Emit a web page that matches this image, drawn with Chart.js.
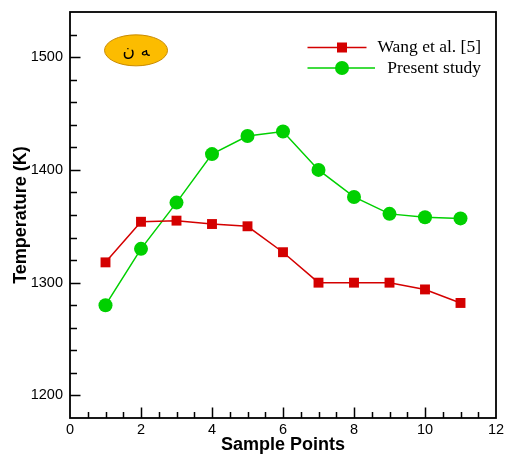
<!DOCTYPE html>
<html>
<head>
<meta charset="utf-8">
<script src="https://cdn.jsdelivr.net/npm/chart.js@4.4.0/dist/chart.umd.min.js"></script>
<style>
  html, body { margin: 0; padding: 0; background: #fff; }
  #wrap { width: 506px; height: 455px; }
</style>
</head>
<body>
<div id="wrap"><canvas id="tempChart" width="506" height="455"></canvas></div>
<script>
const samplePoints = [1, 2, 3, 4, 5, 6, 7, 8, 9, 10, 11];
const wangTemps = [1318, 1354, 1355, 1352, 1350, 1327, 1300, 1300, 1300, 1294, 1282];
const presentTemps = [1280, 1330, 1371, 1414, 1430, 1434, 1400, 1376, 1361, 1358, 1357];
const xTickValues = [0, 2, 4, 6, 8, 10, 12];
const yTickValues = [1200, 1300, 1400, 1500];
const seriesNames = ['Wang et al. [5]', 'Present study'];
const badgeText = 'ﻪ ن';

const RED = '#d40000';
const GREEN = '#00d000';

// inward tick marks + frame box round the plot
const frameTicks = {
    id: 'frameTicks',
    afterDatasetsDraw(chart) {
        const { ctx, chartArea: a, scales: { x, y } } = chart;
        ctx.save();
        ctx.strokeStyle = '#000';
        ctx.lineWidth = 1.5;
        ctx.beginPath();
        for (let v = 0.5; v < 12; v += 0.5) {
            const px = Math.round(x.getPixelForValue(v)) + 0.5;
            const len = (v % 2 === 0) ? 10.5 : 6;
            ctx.moveTo(px, a.bottom);
            ctx.lineTo(px, a.bottom - len);
        }
        for (let v = 1200; v <= 1520; v += 20) {
            const py = Math.round(y.getPixelForValue(v)) + 0.5;
            const len = (v % 100 === 0) ? 10.5 : 7;
            ctx.moveTo(a.left, py);
            ctx.lineTo(a.left + len, py);
        }
        ctx.stroke();
        ctx.lineWidth = 1.8;
        ctx.strokeRect(a.left, a.top, a.right - a.left, a.bottom - a.top);
        ctx.restore();
    }
};

// orange badge top-left and the legend top-right
const extras = {
    id: 'extras',
    afterDraw(chart) {
        const { ctx, scales: { x, y } } = chart;
        ctx.save();
        const cx = x.getPixelForValue(1.86), cy = y.getPixelForValue(1506);
        ctx.beginPath();
        ctx.ellipse(cx, cy, 31.5, 15.5, 0, 0, Math.PI * 2);
        ctx.fillStyle = '#fcbc00';
        ctx.fill();
        ctx.strokeStyle = '#c88a00';
        ctx.lineWidth = 1;
        ctx.stroke();
        ctx.fillStyle = '#000';
        ctx.font = '17px "DejaVu Sans"';
        ctx.textAlign = 'center';
        ctx.textBaseline = 'middle';
        ctx.fillText(badgeText, cx, cy + 1);

        const rows = [
            { name: seriesNames[0], color: RED, shape: 'rect', y: 47.5, end: 366.5 },
            { name: seriesNames[1], color: GREEN, shape: 'circle', y: 68, end: 375 }
        ];
        ctx.font = '17.5px "Liberation Serif"';
        ctx.textAlign = 'right';
        rows.forEach(r => {
            ctx.strokeStyle = r.color;
            ctx.lineWidth = 1.5;
            ctx.beginPath();
            ctx.moveTo(307.5, r.y);
            ctx.lineTo(r.end, r.y);
            ctx.stroke();
            ctx.fillStyle = r.color;
            if (r.shape === 'rect') {
                ctx.fillRect(342 - 5, r.y - 5, 10, 10);
            } else {
                ctx.beginPath();
                ctx.arc(342, r.y, 7, 0, Math.PI * 2);
                ctx.fill();
            }
            ctx.fillStyle = '#000';
            ctx.fillText(r.name, 481, r.y);
        });
        ctx.restore();
    }
};

const noEndPadding = s => {
    s.paddingTop = 0; s.paddingBottom = 0; s.paddingLeft = 0; s.paddingRight = 0;
};

const ctx = document.getElementById('tempChart').getContext('2d');
const tempChart = new Chart(ctx, {
    type: 'line',
    data: {
        datasets: [
            {
                label: seriesNames[0],
                data: samplePoints.map((s, i) => ({ x: s, y: wangTemps[i] })),
                borderColor: RED,
                backgroundColor: RED,
                borderWidth: 1.5,
                pointStyle: 'rect',
                pointRadius: 7,
                pointBorderWidth: 0,
                tension: 0
            },
            {
                label: seriesNames[1],
                data: samplePoints.map((s, i) => ({ x: s, y: presentTemps[i] })),
                borderColor: GREEN,
                backgroundColor: GREEN,
                borderWidth: 1.5,
                pointStyle: 'circle',
                pointRadius: 7,
                pointBorderWidth: 0,
                tension: 0
            }
        ]
    },
    options: {
        responsive: false,
        animation: false,
        devicePixelRatio: 1,
        layout: { padding: { left: 0, top: 12, right: 10, bottom: 0 } },
        plugins: { legend: { display: false }, tooltip: { enabled: false } },
        scales: {
            x: {
                type: 'linear',
                min: 0, max: 12,
                grid: { display: false, drawTicks: false },
                border: { display: false },
                afterBuildTicks: s => { s.ticks = xTickValues.map(v => ({ value: v })); },
                afterFit: s => { s.height = 37; noEndPadding(s); },
                ticks: { color: '#000', padding: 3, maxRotation: 0, callback: v => String(v), font: { family: '"Liberation Sans", Arial', size: 14.5 } },
                title: {
                    display: true, text: 'Sample Points', color: '#000',
                    font: { family: '"Liberation Sans", Arial', size: 18, weight: 'bold', lineHeight: 1 },
                    padding: { top: 0, bottom: 1 }
                }
            },
            y: {
                min: 1180, max: 1540,
                grid: { display: false, drawTicks: false },
                border: { display: false },
                afterBuildTicks: s => { s.ticks = yTickValues.map(v => ({ value: v })); },
                afterFit: s => { s.width = 70; noEndPadding(s); },
                ticks: { color: '#000', padding: 7, callback: v => String(v), font: { family: '"Liberation Sans", Arial', size: 14.5 } },
                title: {
                    display: true, text: 'Temperature (K)', color: '#000',
                    font: { family: '"Liberation Sans", Arial', size: 18, weight: 'bold', lineHeight: 1 },
                    padding: { top: 12, bottom: 0 }
                }
            }
        }
    },
    plugins: [frameTicks, extras]
});
</script>
</body>
</html>
